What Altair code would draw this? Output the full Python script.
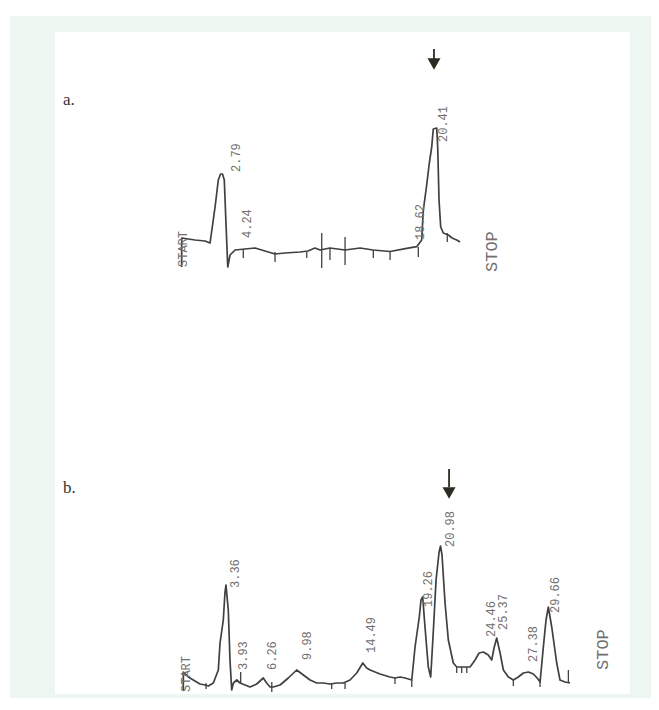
import altair as alt
import pandas as pd

# ---------------- Panel a (time in min, detector response) ----------------
A_TIME = [-0.58, -0.58, 0.53, 1.37, 1.79, 2.21, 2.48, 2.67, 2.83, 2.98, 3.12, 3.27, 3.46, 3.88,
          4.71, 5.55, 6.38, 7.22, 8.05, 9.31, 9.97, 10.56, 10.98, 11.81, 13.07, 14.32, 15.41,
          16.83, 18.22, 19.06, 19.47, 19.61, 19.89, 20.11, 20.31, 20.44, 20.73, 20.81, 20.92,
          21.06, 21.28, 21.70, 22.01, 22.40, 22.67]
A_RESP = [-17, 12, 10, 9, 7, 43, 70, 76, 76, 70, 27, -17, -5, 0,
          1, 2, -1, -4, -3, -2, -1, 2, 0, 2, 0, 2, 0,
          -1.5, 1.7, 3.3, 10, 40, 65, 87, 103, 121, 122, 103, 50,
          23, 17, 15, 12, 10, 8]

A_TICK_TIME = [4.57, 7.22, 9.87, 11.12, 11.81, 13.07, 15.43, 16.83, 19.19, 21.61]
A_TICK_TOP = [0, -2, -2, 17, 2, 13, 0, -2, 3, 17]
A_TICK_BOTTOM = [-8, -12, -8, -18, -10, -15, -8, -10, -7, 8]

A_LABEL_TEXT = ["START", "2.79", "4.24", "18.62", "20.41", "STOP"]
A_LABEL_TIME = [-0.45, 3.96, 4.88, 19.33, 21.25, 25.35]
A_LABEL_RESP = [-17, 78, 12, 10, 108, -22]
A_LABEL_SIZE = [12, 12, 12, 12, 12, 17]

A_ARROW_TIME = [20.50]
A_ARROW_TOP = [201]
A_ARROW_BOTTOM = [190]
A_ARROW_HEAD = [186]
A_LETTER = ["a."]
A_LETTER_TIME = [-10.49]
A_LETTER_RESP = [145]

# ---------------- Panel b ----------------
B_TIME = [-0.14, -0.14, 0.27, 0.68, 1.23, 1.65, 1.92, 2.33, 2.74, 2.88, 3.15, 3.29, 3.37, 3.56,
          3.70, 3.84, 3.98, 4.26, 4.53, 4.94, 5.35, 5.90, 6.44, 6.72, 7.00, 7.27, 7.82, 8.50,
          9.19, 9.74, 10.29, 10.84, 11.38, 11.93, 12.49, 13.03, 13.58, 14.13, 14.63, 14.95,
          15.23, 16.05, 16.87, 17.28, 17.70, 18.11, 18.66, 18.93, 19.28, 19.42, 19.56, 19.75,
          20.02, 20.22, 20.44, 20.66, 20.91, 21.03, 21.15, 21.40, 21.67, 22.08, 22.36, 23.05,
          23.46, 23.87, 24.20, 24.55, 24.96, 25.24, 25.43, 25.65, 25.93, 26.20, 26.61, 27.02,
          27.43, 27.84, 28.26, 28.67, 29.05, 29.22, 29.49, 29.71, 29.90, 30.18, 30.59, 30.86,
          31.28, 31.69]
B_RESP = [-7, 11, 6, 3, -1, -2, -3, 0, 13, 40, 63, 91, 98, 73,
          23, -7, 0, 3, 0, -2, -4, -1, 5, 0, -4, -4, -2, 5,
          13, 8, 3, 0, 0, -1, 0, 0, 3, 10, 20, 15,
          13, 9, 6, 5, 6, 5, 3, 36, 66, 83, 86, 56,
          16, 6, 53, 103, 131, 137, 128, 80, 43, 20, 16, 16,
          16, 23, 30, 31, 28, 23, 35, 45, 30, 13, 6, 3,
          6, 10, 11, 9, 4, 1, 36, 63, 76, 56, 20, 3,
          1, 0]

B_TICK_TIME = [1.73, 4.58, 7.14, 12.07, 13.17, 17.28, 18.66, 22.36, 22.77, 23.19, 27.02, 29.22, 31.55]
B_TICK_TOP = [0, 11, 1, 0, 0, 5, 3, 16, 16, 16, 3, 2, 13]
B_TICK_BOTTOM = [-6, 0, -9, -6, -6, -1, -4, 10, 10, 10, -3, -4, 0]

B_LABEL_TEXT = ["START", "3.36", "3.93", "6.26", "9.98", "14.49", "19.26", "20.98",
                "24.46", "25.37", "27.38", "29.66", "STOP"]
B_LABEL_TIME = [0.08, 4.12, 4.73, 7.12, 10.00, 15.27, 19.96, 21.81, 25.19, 26.13, 28.60, 30.41, 34.44]
B_LABEL_RESP = [-9, 95, 13, 13, 23, 30, 76, 136, 46, 53, 21, 70, 13]
B_LABEL_SIZE = [12, 12, 12, 12, 12, 12, 12, 12, 12, 12, 12, 12, 17]

B_ARROW_TIME = [21.73]
B_ARROW_TOP = [214]
B_ARROW_BOTTOM = [196]
B_ARROW_HEAD = [190]
B_LETTER = ["b."]
B_LETTER_TIME = [-10.04]
B_LETTER_RESP = [190]

X_A_DOMAIN = [-15.09, 38.63]
Y_A_DOMAIN = [-448, 242]
X_B_DOMAIN = [-14.57, 38.35]
Y_B_DOMAIN = [-15, 675]

TRACE = "#404040"
LABEL = "#707070"
ARROW = "#2b2b1f"


def panel(times, resp, tick_t, tick_top, tick_bot, lab_text, lab_t, lab_r, lab_size,
          ar_t, ar_top, ar_bot, ar_head, letter, letter_t, letter_r, xdom, ydom):
    xs = alt.Scale(domain=xdom, nice=False, zero=False)
    ys = alt.Scale(domain=ydom, nice=False, zero=False)
    trace_df = pd.DataFrame({"t": times, "r": resp, "i": list(range(len(times)))})
    tick_df = pd.DataFrame({"t": tick_t, "r1": tick_top, "r2": tick_bot})
    lab_df = pd.DataFrame({"t": lab_t, "r": lab_r, "txt": lab_text, "s": lab_size})
    ar_df = pd.DataFrame({"t": ar_t, "r1": ar_top, "r2": ar_bot, "h": ar_head})
    let_df = pd.DataFrame({"t": letter_t, "r": letter_r, "txt": letter})

    line = alt.Chart(trace_df).mark_line(color=TRACE, strokeWidth=1.7, strokeJoin="round").encode(
        x=alt.X("t:Q", scale=xs, axis=None),
        y=alt.Y("r:Q", scale=ys, axis=None),
        order="i:Q",
    )
    ticks = alt.Chart(tick_df).mark_rule(color=TRACE, strokeWidth=1.3).encode(
        x=alt.X("t:Q", scale=xs, axis=None),
        y=alt.Y("r1:Q", scale=ys, axis=None),
        y2="r2:Q",
    )
    labels = alt.Chart(lab_df).mark_text(
        angle=270, align="left", baseline="middle", font="Liberation Mono", color=LABEL
    ).encode(
        x=alt.X("t:Q", scale=xs, axis=None),
        y=alt.Y("r:Q", scale=ys, axis=None),
        text="txt:N",
        size=alt.Size("s:Q", scale=None, legend=None),
    )
    shaft = alt.Chart(ar_df).mark_rule(color=ARROW, strokeWidth=1.8).encode(
        x=alt.X("t:Q", scale=xs, axis=None),
        y=alt.Y("r1:Q", scale=ys, axis=None),
        y2="r2:Q",
    )
    head = alt.Chart(ar_df).mark_point(
        shape="triangle-down", filled=True, size=170, color=ARROW, opacity=1
    ).encode(
        x=alt.X("t:Q", scale=xs, axis=None),
        y=alt.Y("h:Q", scale=ys, axis=None),
    )
    let = alt.Chart(let_df).mark_text(
        align="left", baseline="alphabetic", font="Liberation Serif", fontSize=17, color="#333333"
    ).encode(
        x=alt.X("t:Q", scale=xs, axis=None),
        y=alt.Y("r:Q", scale=ys, axis=None),
        text="txt:N",
    )
    return alt.layer(line, ticks, labels, shaft, head, let)


panel_a = panel(A_TIME, A_RESP, A_TICK_TIME, A_TICK_TOP, A_TICK_BOTTOM,
                A_LABEL_TEXT, A_LABEL_TIME, A_LABEL_RESP, A_LABEL_SIZE,
                A_ARROW_TIME, A_ARROW_TOP, A_ARROW_BOTTOM, A_ARROW_HEAD,
                A_LETTER, A_LETTER_TIME, A_LETTER_RESP, X_A_DOMAIN, Y_A_DOMAIN)
panel_b = panel(B_TIME, B_RESP, B_TICK_TIME, B_TICK_TOP, B_TICK_BOTTOM,
                B_LABEL_TEXT, B_LABEL_TIME, B_LABEL_RESP, B_LABEL_SIZE,
                B_ARROW_TIME, B_ARROW_TOP, B_ARROW_BOTTOM, B_ARROW_HEAD,
                B_LETTER, B_LETTER_TIME, B_LETTER_RESP, X_B_DOMAIN, Y_B_DOMAIN)

one = alt.Data(values=[{"k": 1}])
green = alt.Chart(one).mark_rect(color="#edf6f0").encode(
    x=alt.value(2), x2=alt.value(643), y=alt.value(8), y2=alt.value(690)
)
white = alt.Chart(one).mark_rect(color="#ffffff").encode(
    x=alt.value(47), x2=alt.value(622), y=alt.value(24), y2=alt.value(686)
)

chart = alt.layer(green, white, panel_a, panel_b).resolve_scale(
    x="independent", y="independent"
).properties(
    width=643, height=690, padding=0,
    autosize=alt.AutoSizeParams(type="none"),
    background="#ffffff",
).configure_view(stroke=None)

chart.save("out.html", embed_options={"renderer": "svg", "actions": False})
